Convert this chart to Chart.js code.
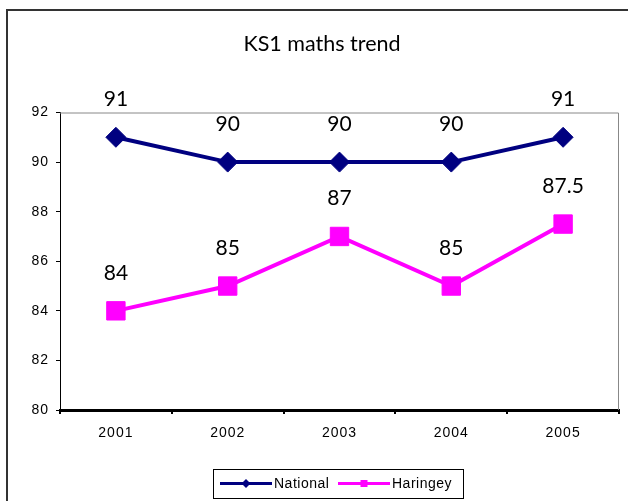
<!DOCTYPE html>
<html>
<head>
<meta charset="utf-8">
<script src="https://cdn.jsdelivr.net/npm/chart.js@4"></script>
<style>
html,body{margin:0;padding:0;background:#fff;}
#wrap{position:absolute;left:0;top:0;width:628px;height:501px;}
</style>
</head>
<body>
<div id="wrap"><canvas id="c" width="628" height="501"></canvas></div>
<script>
const categories = ['2001', '2002', '2003', '2004', '2005'];
const nationalValues = [91, 90, 90, 90, 91];
const haringeyValues = [84, 85, 87, 85, 87.5];
const seriesNames = ['National', 'Haringey'];
const yMin = 80, yMax = 92, yStep = 2;
const chartTitle = 'KS1 maths trend';

const NAVY = '#000080', MAGENTA = '#FF00FF';
const labelFont = '21px "Comic Sans MS", Lato, sans-serif';

const decor = {
  id: 'decor',
  beforeDraw(chart) {
    const ctx = chart.ctx;
    ctx.save();
    ctx.strokeStyle = '#333';
    ctx.lineWidth = 2;
    ctx.beginPath();
    ctx.moveTo(7, 501);
    ctx.lineTo(7, 10);
    ctx.lineTo(628, 10);
    ctx.stroke();
    ctx.fillStyle = '#000';
    ctx.font = '21.5px "Comic Sans MS", Lato, sans-serif';
    ctx.textAlign = 'center';
    ctx.textBaseline = 'middle';
    ctx.fillText(chartTitle, 322, 44);
    ctx.restore();
    ctx.letterSpacing = '1px';
  },
  beforeDatasetsDraw(chart) {
    const ctx = chart.ctx;
    const a = chart.chartArea;
    ctx.save();
    ctx.letterSpacing = '0px';
    ctx.strokeStyle = '#888';
    ctx.lineWidth = 1;
    ctx.beginPath();
    ctx.moveTo(a.left, a.top + 0.5);
    ctx.lineTo(a.right - 0.5, a.top + 0.5);
    ctx.lineTo(a.right - 0.5, a.bottom);
    ctx.stroke();
    ctx.restore();
  },
  afterDatasetsDraw(chart) {
    const ctx = chart.ctx;
    ctx.save();
    ctx.letterSpacing = '0px';
    ctx.fillStyle = '#000';
    ctx.font = labelFont;
    ctx.textAlign = 'center';
    ctx.textBaseline = 'middle';
    chart.data.datasets.forEach((ds, i) => {
      const meta = chart.getDatasetMeta(i);
      meta.data.forEach((pt, j) => {
        ctx.fillText(String(ds.data[j]), pt.x, pt.y - 38);
      });
    });
    ctx.restore();
  },
  afterDraw(chart) {
    const ctx = chart.ctx;
    ctx.save();
    ctx.letterSpacing = '0px';
    ctx.strokeStyle = '#000';
    ctx.lineWidth = 1;
    ctx.strokeRect(213.5, 469.5, 250, 29);
    const items = [
      {x0: 220, x1: 272, tx: 274},
      {x0: 338, x1: 390, tx: 392}
    ];
    chart.data.datasets.forEach((ds, i) => {
      const it = items[i];
      const y = 483.5;
      ctx.strokeStyle = ds.borderColor;
      ctx.fillStyle = ds.borderColor;
      ctx.lineWidth = 3;
      ctx.beginPath();
      ctx.moveTo(it.x0, y);
      ctx.lineTo(it.x1, y);
      ctx.stroke();
      const cx = (it.x0 + it.x1) / 2;
      ctx.beginPath();
      if (ds.pointStyle === 'rectRot') {
        ctx.moveTo(cx, y - 4.5); ctx.lineTo(cx + 4.5, y); ctx.lineTo(cx, y + 4.5); ctx.lineTo(cx - 4.5, y);
        ctx.closePath();
      } else {
        ctx.rect(cx - 3.5, y - 3.5, 7, 7);
      }
      ctx.fill();
      ctx.fillStyle = '#000';
      ctx.font = '14px "Liberation Sans", Arial, sans-serif';
      ctx.letterSpacing = '0.5px';
      ctx.textAlign = 'left';
      ctx.textBaseline = 'middle';
      ctx.fillText(ds.label, it.tx, y + 0.5);
      ctx.letterSpacing = '0px';
    });
    ctx.restore();
  }
};

new Chart(document.getElementById('c'), {
  type: 'line',
  data: {
    labels: categories,
    datasets: [
      {
        label: seriesNames[0],
        data: nationalValues,
        borderColor: NAVY,
        backgroundColor: NAVY,
        borderWidth: 4,
        pointStyle: 'rectRot',
        pointRadius: 10,
        pointHoverRadius: 10,
        pointBorderWidth: 1,
        pointBackgroundColor: NAVY,
        pointBorderColor: NAVY,
        tension: 0,
        clip: false
      },
      {
        label: seriesNames[1],
        data: haringeyValues,
        borderColor: MAGENTA,
        backgroundColor: MAGENTA,
        borderWidth: 4,
        pointStyle: 'rect',
        pointRadius: 13,
        pointHoverRadius: 13,
        pointBorderWidth: 1,
        pointBackgroundColor: MAGENTA,
        pointBorderColor: MAGENTA,
        tension: 0,
        clip: false
      }
    ]
  },
  options: {
    responsive: false,
    animation: false,
    events: [],
    layout: {autoPadding: false, padding: {left: 0, top: 112.5, right: 9, bottom: 0}},
    plugins: {
      legend: {display: false},
      title: {display: false},
      tooltip: {enabled: false}
    },
    scales: {
      x: {
        type: 'category',
        offset: true,
        afterFit(scale) { scale.height = 91; },
        grid: {
          offset: true,
          drawOnChartArea: false,
          drawTicks: true,
          tickLength: 4,
          color: '#000',
          lineWidth: 2
        },
        border: {display: true, color: '#000', width: 3},
        ticks: {
          color: '#000',
          font: {family: '"Liberation Sans", Arial, sans-serif', size: 14},
          padding: 11,
          maxRotation: 0
        }
      },
      y: {
        min: yMin,
        max: yMax,
        afterFit(scale) { scale.width = 60; },
        grid: {
          drawOnChartArea: false,
          drawTicks: true,
          tickLength: 4,
          color: '#000',
          lineWidth: 1
        },
        border: {display: true, color: '#000', width: 1},
        ticks: {
          stepSize: yStep,
          color: '#000',
          font: {family: '"Liberation Sans", Arial, sans-serif', size: 14},
          padding: 7
        }
      }
    }
  },
  plugins: [decor]
});
</script>
</body>
</html>
